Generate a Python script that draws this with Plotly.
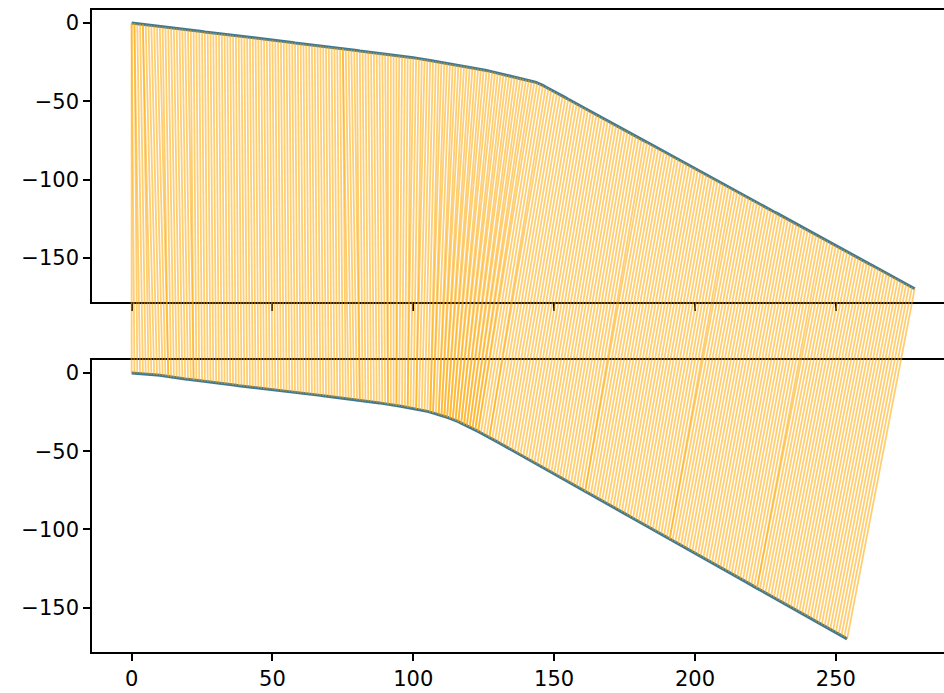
import plotly.graph_objects as go

# Two series (index on x), and the tick marks for the shared axes
series_a = [
    0.0, -0.2, -0.4, -0.7, -0.9, -1.1, -1.3, -1.5, -1.7, -2.0,
    -2.2, -2.4, -2.6, -2.8, -3.1, -3.3, -3.5, -3.7, -3.9, -4.1,
    -4.4, -4.6, -4.8, -5.0, -5.2, -5.4, -5.7, -5.9, -6.1, -6.3,
    -6.5, -6.8, -7.0, -7.2, -7.4, -7.6, -7.8, -8.1, -8.3, -8.5,
    -8.7, -8.9, -9.2, -9.4, -9.6, -9.8, -10.0, -10.2, -10.5, -10.7,
    -10.9, -11.1, -11.3, -11.6, -11.8, -12.0, -12.2, -12.4, -12.7, -12.9,
    -13.1, -13.3, -13.6, -13.8, -14.0, -14.2, -14.4, -14.7, -14.9, -15.1,
    -15.3, -15.5, -15.8, -16.0, -16.2, -16.4, -16.7, -16.9, -17.1, -17.3,
    -17.5, -17.8, -18.0, -18.2, -18.4, -18.6, -18.9, -19.1, -19.3, -19.5,
    -19.8, -20.0, -20.2, -20.5, -20.7, -20.9, -21.2, -21.4, -21.7, -21.9,
    -22.1, -22.4, -22.6, -22.9, -23.2, -23.5, -23.9, -24.2, -24.5, -24.8,
    -25.1, -25.4, -25.7, -26.1, -26.4, -26.7, -27.0, -27.3, -27.6, -27.9,
    -28.2, -28.6, -28.9, -29.2, -29.5, -29.9, -30.3, -30.7, -31.1, -31.5,
    -32.0, -32.4, -32.8, -33.2, -33.6, -34.0, -34.4, -34.8, -35.2, -35.6,
    -36.1, -36.5, -37.1, -37.6, -38.2, -38.8, -39.8, -40.8, -41.7, -42.7,
    -43.7, -44.7, -45.7, -46.7, -47.6, -48.6, -49.6, -50.6, -51.6, -52.6,
    -53.5, -54.5, -55.5, -56.5, -57.5, -58.5, -59.4, -60.4, -61.4, -62.4,
    -63.4, -64.3, -65.3, -66.3, -67.3, -68.3, -69.3, -70.2, -71.2, -72.2,
    -73.2, -74.2, -75.2, -76.1, -77.1, -78.1, -79.1, -80.1, -81.1, -82.0,
    -83.0, -84.0, -85.0, -86.0, -86.9, -87.9, -88.9, -89.9, -90.9, -91.9,
    -92.8, -93.8, -94.8, -95.8, -96.8, -97.8, -98.7, -99.7, -100.7, -101.7,
    -102.7, -103.7, -104.6, -105.6, -106.6, -107.6, -108.6, -109.5, -110.5, -111.5,
    -112.5, -113.5, -114.5, -115.4, -116.4, -117.4, -118.4, -119.4, -120.4, -121.3,
    -122.3, -123.3, -124.3, -125.3, -126.3, -127.2, -128.2, -129.2, -130.2, -131.2,
    -132.1, -133.1, -134.1, -135.1, -136.1, -137.1, -138.0, -139.0, -140.0, -141.0,
    -142.0, -143.0, -143.9, -144.9, -145.9, -146.9, -147.9, -148.9, -149.8, -150.8,
    -151.8, -152.8, -153.8, -154.7, -155.7, -156.7, -157.7, -158.7, -159.7, -160.6,
    -161.6, -162.6, -163.6, -164.6, -165.6, -166.6, -167.5, -168.5, -169.5,
]

series_b = [
    0.0, -0.1, -0.2, -0.3, -0.5, -0.6, -0.8, -1.0, -1.1, -1.3,
    -1.5, -1.8, -2.0, -2.3, -2.5, -2.8, -3.0, -3.3, -3.5, -3.8,
    -4.0, -4.2, -4.5, -4.7, -4.9, -5.2, -5.4, -5.6, -5.8, -6.1,
    -6.3, -6.5, -6.7, -7.0, -7.2, -7.4, -7.6, -7.8, -8.1, -8.3,
    -8.5, -8.7, -8.9, -9.1, -9.3, -9.6, -9.8, -10.0, -10.2, -10.4,
    -10.6, -10.8, -11.0, -11.3, -11.5, -11.7, -11.9, -12.1, -12.4, -12.6,
    -12.8, -13.0, -13.2, -13.5, -13.7, -13.9, -14.1, -14.3, -14.6, -14.8,
    -15.0, -15.2, -15.4, -15.7, -15.9, -16.1, -16.3, -16.5, -16.8, -17.0,
    -17.2, -17.4, -17.7, -17.9, -18.2, -18.4, -18.6, -18.9, -19.1, -19.4,
    -19.6, -19.9, -20.2, -20.5, -20.8, -21.1, -21.4, -21.7, -22.0, -22.3,
    -22.6, -23.0, -23.4, -23.7, -24.1, -24.5, -25.0, -25.5, -26.0, -26.5,
    -27.0, -27.7, -28.3, -29.0, -29.6, -30.3, -31.1, -32.0, -32.8, -33.7,
    -34.5, -35.4, -36.4, -37.3, -38.3, -39.2, -40.2, -41.2, -42.2, -43.2,
    -44.2, -45.2, -46.2, -47.3, -48.3, -49.3, -50.3, -51.3, -52.3, -53.4,
    -54.4, -55.4, -56.4, -57.4, -58.4, -59.4, -60.5, -61.5, -62.5, -63.5,
    -64.5, -65.5, -66.5, -67.5, -68.6, -69.6, -70.6, -71.6, -72.6, -73.6,
    -74.6, -75.6, -76.6, -77.7, -78.7, -79.7, -80.7, -81.7, -82.7, -83.7,
    -84.8, -85.8, -86.8, -87.8, -88.8, -89.8, -90.8, -91.9, -92.9, -93.9,
    -94.9, -95.9, -96.9, -97.9, -99.0, -100.0, -101.0, -102.0, -103.0, -104.0,
    -105.0, -106.1, -107.1, -108.1, -109.1, -110.1, -111.1, -112.1, -113.2, -114.2,
    -115.2, -116.2, -117.2, -118.2, -119.2, -120.2, -121.3, -122.3, -123.3, -124.3,
    -125.3, -126.3, -127.3, -128.3, -129.4, -130.4, -131.4, -132.4, -133.4, -134.4,
    -135.4, -136.5, -137.5, -138.5, -139.5, -140.5, -141.5, -142.5, -143.5, -144.6,
    -145.6, -146.6, -147.6, -148.6, -149.6, -150.6, -151.7, -152.7, -153.7, -154.7,
    -155.7, -156.7, -157.7, -158.7, -159.8, -160.8, -161.8, -162.8, -163.8, -164.8,
    -165.8, -166.8, -167.9, -168.9, -169.9,
]

x_ticks = [0, 50, 100, 150, 200, 250]
y_ticks = [0, -50, -100, -150]
y_tick_text = ["0", "\u221250", "\u2212100", "\u2212150"]


def warping_path(a, b):
    """Dynamic time warping alignment between two sequences."""
    n, m = len(a), len(b)
    inf = float("inf")
    acc = [[inf] * (m + 1) for _ in range(n + 1)]
    acc[0][0] = 0.0
    for i in range(1, n + 1):
        ai = a[i - 1]
        prev = acc[i - 1]
        cur = acc[i]
        for j in range(1, m + 1):
            d = ai - b[j - 1]
            cur[j] = d * d + min(prev[j - 1], prev[j], cur[j - 1])
    i, j = n, m
    path = [(i - 1, j - 1)]
    while i > 1 or j > 1:
        cands = [(acc[i - 1][j - 1], 0, i - 1, j - 1),
                 (acc[i - 1][j], 1, i - 1, j),
                 (acc[i][j - 1], 2, i, j - 1)]
        _, _, i, j = min(cands)
        path.append((i - 1, j - 1))
    path.reverse()
    return path


path = warping_path(series_a, series_b)

# Axis geometry
x_range = [-14.07, 288.4]
y_range = [-178.3, 8.3]
dom_top = [0.5444, 1.0]
dom_bot = [0.0, 0.4548]


def to_frac(v, dom):
    return dom[0] + (v - y_range[0]) / (y_range[1] - y_range[0]) * (dom[1] - dom[0])


fig = go.Figure()

curve_color = "#3f7893"
fig.add_trace(go.Scatter(x=list(range(len(series_a))), y=series_a, mode="lines",
                         line=dict(color=curve_color, width=3), xaxis="x", yaxis="y",
                         showlegend=False, hoverinfo="skip"))
fig.add_trace(go.Scatter(x=list(range(len(series_b))), y=series_b, mode="lines",
                         line=dict(color=curve_color, width=3), xaxis="x2", yaxis="y2",
                         showlegend=False, hoverinfo="skip"))

# Warping connections drawn across both panels
for ia, ib in path:
    fig.add_trace(go.Scatter(
        x=[ia, ib],
        y=[to_frac(series_a[ia], dom_top), to_frac(series_b[ib], dom_bot)],
        mode="lines", line=dict(color="rgba(255,165,0,0.55)", width=1.8),
        xaxis="x3", yaxis="y3", showlegend=False, hoverinfo="skip"))

font = dict(family="DejaVu Sans", size=21, color="black")
axis_common = dict(showgrid=False, zeroline=False, showline=True, linecolor="black",
                   linewidth=1.5, ticks="outside", ticklen=7, tickwidth=1.5,
                   tickcolor="black", tickfont=font)

fig.update_layout(
    width=944, height=693,
    margin=dict(l=92, r=0, t=10, b=41),
    paper_bgcolor="white", plot_bgcolor="rgba(0,0,0,0)",
    xaxis=dict(domain=[0, 1], range=x_range, anchor="y", mirror=True,
               tickvals=x_ticks, showticklabels=False, **axis_common),
    yaxis=dict(domain=dom_top, range=y_range, anchor="x",
               tickvals=y_ticks, ticktext=y_tick_text, **axis_common),
    xaxis2=dict(domain=[0, 1], range=x_range, anchor="y2", mirror=True,
                tickvals=x_ticks, ticktext=[str(t) for t in x_ticks], **axis_common),
    yaxis2=dict(domain=dom_bot, range=y_range, anchor="x2",
                tickvals=y_ticks, ticktext=y_tick_text, **axis_common),
    xaxis3=dict(domain=[0, 1], range=x_range, anchor="y3", visible=False),
    yaxis3=dict(domain=[0, 1], range=[0, 1], anchor="x3", visible=False),
)

fig.write_html("out.html")
